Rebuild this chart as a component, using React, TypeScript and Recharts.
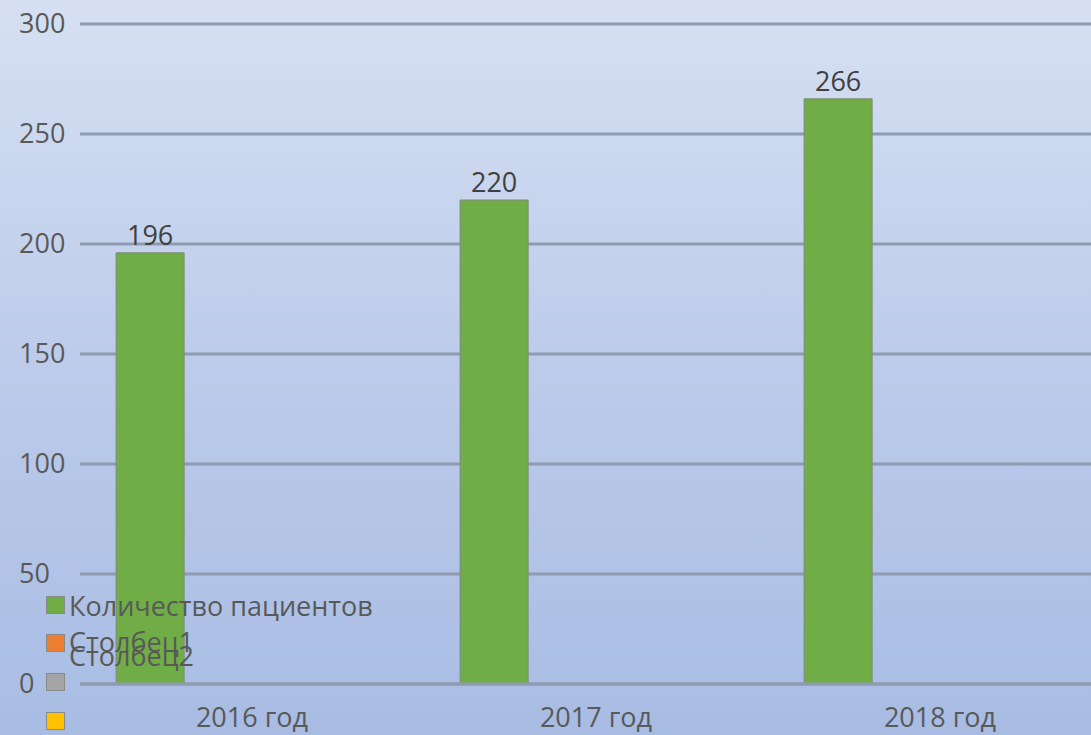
import React from 'react';
import { BarChart, Bar, XAxis, YAxis, CartesianGrid, LabelList } from 'recharts';

const categories = ['2016 год', '2017 год', '2018 год'];
const patients = [196, 220, 266];
const col1: (number | null)[] = [null, null, null];
const col2: (number | null)[] = [null, null, null];
const col3: (number | null)[] = [null, null, null];
const yTicks = [0, 50, 100, 150, 200, 250, 300];
const seriesNames = ['Количество пациентов', 'Столбец1', 'Столбец2', 'Столбец3'];
const seriesColors = ['#70ad47', '#ed7d31', '#a5a5a5', '#ffc000'];

const data = categories.map((c, i) => ({
  name: c,
  s0: patients[i],
  s1: col1[i],
  s2: col2[i],
  s3: col3[i],
}));

const FONT = '"Open Sans", sans-serif';
const TEXT = '#595959';

const legendItems = [
  { color: seriesColors[0], label: seriesNames[0], sq: 605, tx: 606 },
  { color: seriesColors[1], label: seriesNames[1], sq: 643, tx: 642 },
  { color: seriesColors[2], label: seriesNames[2], sq: 682, tx: 656 },
  { color: seriesColors[3], label: '', sq: 721, tx: 721 },
];

const LegendOverlay = () => (
  <div style={{ position: 'absolute', left: 0, top: 0, width: 420, height: 735, pointerEvents: 'none' }}>
    {legendItems.map((it, i) => (
      <React.Fragment key={i}>
        <div
          style={{
            position: 'absolute',
            left: 46,
            top: it.sq - 9,
            width: 19,
            height: 18,
            background: it.color,
            border: '1px solid #8a8a8a',
            boxSizing: 'border-box',
          }}
        />
        {it.label ? (
          <div
            style={{
              position: 'absolute',
              left: 69,
              top: it.tx - 18,
              fontFamily: FONT,
              fontSize: 27,
              lineHeight: '36px',
              color: TEXT,
              whiteSpace: 'nowrap',
            }}
          >
            {it.label}
          </div>
        ) : null}
      </React.Fragment>
    ))}
  </div>
);

const YTick = (props: any) => {
  const { y, payload } = props;
  return (
    <text x={19} y={y} dy={9} textAnchor="start" fill={TEXT} fontSize={27} fontFamily={FONT}>
      {payload.value}
    </text>
  );
};

export default function App() {
  return (
    <div
      style={{
        position: 'absolute',
        left: 0,
        top: 0,
        width: 1091,
        height: 735,
        overflow: 'hidden',
        background: 'linear-gradient(to bottom, #d6e0f2 0%, #bccbea 50%, #a8bce3 100%)',
      }}
    >
      <BarChart
        width={1112}
        height={735}
        data={data}
        margin={{ top: 24, right: 0, bottom: 0, left: 0 }}
        barCategoryGap="10.5%"
        barGap={0}
      >
        <CartesianGrid vertical={false} stroke="#8f9bb0" strokeWidth={3} />
        <XAxis
          dataKey="name"
          height={51}
          tickLine={false}
          axisLine={{ stroke: '#8f9bb0', strokeWidth: 3 }}
          tick={{ fill: TEXT, fontSize: 27, fontFamily: FONT }}
          tickMargin={18}
        />
        <YAxis
          width={80}
          domain={[0, 300]}
          ticks={yTicks}
          tickLine={false}
          axisLine={false}
          tick={<YTick />}
        />
        <Bar dataKey="s0" name={seriesNames[0]} fill={seriesColors[0]} stroke="#7f8a7a" strokeWidth={1} isAnimationActive={false}>
          <LabelList dataKey="s0" position="top" offset={8} fill="#404040" fontSize={27} fontFamily={FONT} />
        </Bar>
        <Bar dataKey="s1" name={seriesNames[1]} fill={seriesColors[1]} isAnimationActive={false} />
        <Bar dataKey="s2" name={seriesNames[2]} fill={seriesColors[2]} isAnimationActive={false} />
        <Bar dataKey="s3" name={seriesNames[3]} fill={seriesColors[3]} isAnimationActive={false} />
      </BarChart>
      <LegendOverlay />
    </div>
  );
}
